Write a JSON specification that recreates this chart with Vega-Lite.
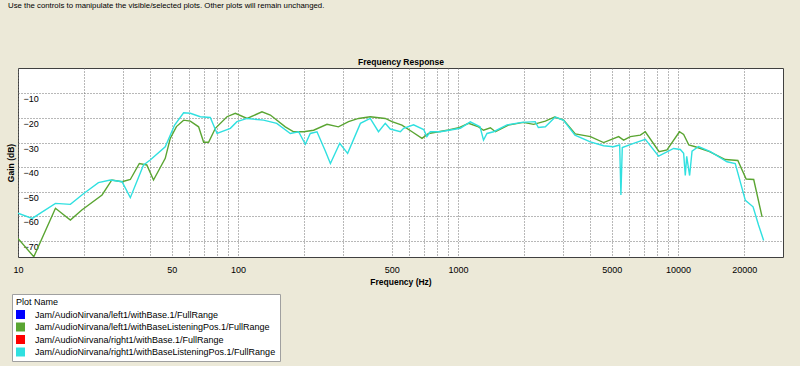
{
  "$schema": "https://vega.github.io/schema/vega-lite/v6.json",
  "background": "#ece9d8",
  "autosize": {"type": "none"},
  "width": 765,
  "height": 189,
  "padding": {"left": 18, "top": 68, "right": 17, "bottom": 109},
  "title": {"text": "Use the controls to manipulate the visible/selected plots.  Other plots will remain unchanged.", "anchor": "start", "frame": "bounds", "font": "Liberation Sans", "fontSize": 7.8, "fontWeight": "normal", "color": "#000000", "offset": 47, "dx": 2},
  "config": {
    "view": {"fill": "#ffffff", "stroke": "#404040", "strokeWidth": 1},
    "axis": {"labelFont": "Liberation Sans", "titleFont": "Liberation Sans", "labelColor": "#000000", "titleColor": "#000000"}
  },
  "data": {"values": [
    {"plot": "Jam/AudioNirvana/left1/withBaseListeningPos.1/FullRange", "f": 10, "g": -69},
    {"plot": "Jam/AudioNirvana/left1/withBaseListeningPos.1/FullRange", "f": 11.8, "g": -76.4},
    {"plot": "Jam/AudioNirvana/left1/withBaseListeningPos.1/FullRange", "f": 14.8, "g": -56.7},
    {"plot": "Jam/AudioNirvana/left1/withBaseListeningPos.1/FullRange", "f": 17.3, "g": -61.5},
    {"plot": "Jam/AudioNirvana/left1/withBaseListeningPos.1/FullRange", "f": 19.5, "g": -57.4},
    {"plot": "Jam/AudioNirvana/left1/withBaseListeningPos.1/FullRange", "f": 24.1, "g": -51.3},
    {"plot": "Jam/AudioNirvana/left1/withBaseListeningPos.1/FullRange", "f": 26.7, "g": -45.2},
    {"plot": "Jam/AudioNirvana/left1/withBaseListeningPos.1/FullRange", "f": 29.7, "g": -45.9},
    {"plot": "Jam/AudioNirvana/left1/withBaseListeningPos.1/FullRange", "f": 32.4, "g": -45},
    {"plot": "Jam/AudioNirvana/left1/withBaseListeningPos.1/FullRange", "f": 35.6, "g": -38.5},
    {"plot": "Jam/AudioNirvana/left1/withBaseListeningPos.1/FullRange", "f": 38.5, "g": -39.1},
    {"plot": "Jam/AudioNirvana/left1/withBaseListeningPos.1/FullRange", "f": 41.3, "g": -45.2},
    {"plot": "Jam/AudioNirvana/left1/withBaseListeningPos.1/FullRange", "f": 46.7, "g": -36.4},
    {"plot": "Jam/AudioNirvana/left1/withBaseListeningPos.1/FullRange", "f": 49.2, "g": -28.3},
    {"plot": "Jam/AudioNirvana/left1/withBaseListeningPos.1/FullRange", "f": 52.5, "g": -23.5},
    {"plot": "Jam/AudioNirvana/left1/withBaseListeningPos.1/FullRange", "f": 56.6, "g": -20.9},
    {"plot": "Jam/AudioNirvana/left1/withBaseListeningPos.1/FullRange", "f": 60.7, "g": -21.3},
    {"plot": "Jam/AudioNirvana/left1/withBaseListeningPos.1/FullRange", "f": 66.2, "g": -23.6},
    {"plot": "Jam/AudioNirvana/left1/withBaseListeningPos.1/FullRange", "f": 69.8, "g": -29.9},
    {"plot": "Jam/AudioNirvana/left1/withBaseListeningPos.1/FullRange", "f": 73.5, "g": -29.9},
    {"plot": "Jam/AudioNirvana/left1/withBaseListeningPos.1/FullRange", "f": 78.9, "g": -24.2},
    {"plot": "Jam/AudioNirvana/left1/withBaseListeningPos.1/FullRange", "f": 89.1, "g": -19.5},
    {"plot": "Jam/AudioNirvana/left1/withBaseListeningPos.1/FullRange", "f": 97.2, "g": -18.1},
    {"plot": "Jam/AudioNirvana/left1/withBaseListeningPos.1/FullRange", "f": 110, "g": -20.2},
    {"plot": "Jam/AudioNirvana/left1/withBaseListeningPos.1/FullRange", "f": 128.5, "g": -17.5},
    {"plot": "Jam/AudioNirvana/left1/withBaseListeningPos.1/FullRange", "f": 140.3, "g": -18.8},
    {"plot": "Jam/AudioNirvana/left1/withBaseListeningPos.1/FullRange", "f": 164, "g": -23.6},
    {"plot": "Jam/AudioNirvana/left1/withBaseListeningPos.1/FullRange", "f": 179, "g": -25.6},
    {"plot": "Jam/AudioNirvana/left1/withBaseListeningPos.1/FullRange", "f": 198.8, "g": -25.6},
    {"plot": "Jam/AudioNirvana/left1/withBaseListeningPos.1/FullRange", "f": 220.6, "g": -25},
    {"plot": "Jam/AudioNirvana/left1/withBaseListeningPos.1/FullRange", "f": 253.8, "g": -22.6},
    {"plot": "Jam/AudioNirvana/left1/withBaseListeningPos.1/FullRange", "f": 286, "g": -23.6},
    {"plot": "Jam/AudioNirvana/left1/withBaseListeningPos.1/FullRange", "f": 318, "g": -21.5},
    {"plot": "Jam/AudioNirvana/left1/withBaseListeningPos.1/FullRange", "f": 353, "g": -20.2},
    {"plot": "Jam/AudioNirvana/left1/withBaseListeningPos.1/FullRange", "f": 399, "g": -19.5},
    {"plot": "Jam/AudioNirvana/left1/withBaseListeningPos.1/FullRange", "f": 467, "g": -20.2},
    {"plot": "Jam/AudioNirvana/left1/withBaseListeningPos.1/FullRange", "f": 501, "g": -21.5},
    {"plot": "Jam/AudioNirvana/left1/withBaseListeningPos.1/FullRange", "f": 556, "g": -22.9},
    {"plot": "Jam/AudioNirvana/left1/withBaseListeningPos.1/FullRange", "f": 618, "g": -25.6},
    {"plot": "Jam/AudioNirvana/left1/withBaseListeningPos.1/FullRange", "f": 686, "g": -28.3},
    {"plot": "Jam/AudioNirvana/left1/withBaseListeningPos.1/FullRange", "f": 735, "g": -26.3},
    {"plot": "Jam/AudioNirvana/left1/withBaseListeningPos.1/FullRange", "f": 816, "g": -25.6},
    {"plot": "Jam/AudioNirvana/left1/withBaseListeningPos.1/FullRange", "f": 906, "g": -24.9},
    {"plot": "Jam/AudioNirvana/left1/withBaseListeningPos.1/FullRange", "f": 1006, "g": -24},
    {"plot": "Jam/AudioNirvana/left1/withBaseListeningPos.1/FullRange", "f": 1117, "g": -22.2},
    {"plot": "Jam/AudioNirvana/left1/withBaseListeningPos.1/FullRange", "f": 1240, "g": -23.6},
    {"plot": "Jam/AudioNirvana/left1/withBaseListeningPos.1/FullRange", "f": 1306, "g": -25},
    {"plot": "Jam/AudioNirvana/left1/withBaseListeningPos.1/FullRange", "f": 1403, "g": -24},
    {"plot": "Jam/AudioNirvana/left1/withBaseListeningPos.1/FullRange", "f": 1479, "g": -25.6},
    {"plot": "Jam/AudioNirvana/left1/withBaseListeningPos.1/FullRange", "f": 1693, "g": -22.9},
    {"plot": "Jam/AudioNirvana/left1/withBaseListeningPos.1/FullRange", "f": 1981, "g": -21.8},
    {"plot": "Jam/AudioNirvana/left1/withBaseListeningPos.1/FullRange", "f": 2206, "g": -22.6},
    {"plot": "Jam/AudioNirvana/left1/withBaseListeningPos.1/FullRange", "f": 2494, "g": -21.3},
    {"plot": "Jam/AudioNirvana/left1/withBaseListeningPos.1/FullRange", "f": 2750, "g": -19.6},
    {"plot": "Jam/AudioNirvana/left1/withBaseListeningPos.1/FullRange", "f": 3020, "g": -20.9},
    {"plot": "Jam/AudioNirvana/left1/withBaseListeningPos.1/FullRange", "f": 3412, "g": -26.5},
    {"plot": "Jam/AudioNirvana/left1/withBaseListeningPos.1/FullRange", "f": 4000, "g": -27.6},
    {"plot": "Jam/AudioNirvana/left1/withBaseListeningPos.1/FullRange", "f": 4588, "g": -30},
    {"plot": "Jam/AudioNirvana/left1/withBaseListeningPos.1/FullRange", "f": 5370, "g": -27.6},
    {"plot": "Jam/AudioNirvana/left1/withBaseListeningPos.1/FullRange", "f": 5660, "g": -29},
    {"plot": "Jam/AudioNirvana/left1/withBaseListeningPos.1/FullRange", "f": 6070, "g": -27.6},
    {"plot": "Jam/AudioNirvana/left1/withBaseListeningPos.1/FullRange", "f": 6740, "g": -27},
    {"plot": "Jam/AudioNirvana/left1/withBaseListeningPos.1/FullRange", "f": 7100, "g": -25.6},
    {"plot": "Jam/AudioNirvana/left1/withBaseListeningPos.1/FullRange", "f": 8200, "g": -33.7},
    {"plot": "Jam/AudioNirvana/left1/withBaseListeningPos.1/FullRange", "f": 8910, "g": -33},
    {"plot": "Jam/AudioNirvana/left1/withBaseListeningPos.1/FullRange", "f": 10150, "g": -25.6},
    {"plot": "Jam/AudioNirvana/left1/withBaseListeningPos.1/FullRange", "f": 10605, "g": -26.7},
    {"plot": "Jam/AudioNirvana/left1/withBaseListeningPos.1/FullRange", "f": 11200, "g": -31},
    {"plot": "Jam/AudioNirvana/left1/withBaseListeningPos.1/FullRange", "f": 11980, "g": -31.7},
    {"plot": "Jam/AudioNirvana/left1/withBaseListeningPos.1/FullRange", "f": 13900, "g": -33.7},
    {"plot": "Jam/AudioNirvana/left1/withBaseListeningPos.1/FullRange", "f": 16400, "g": -36.9},
    {"plot": "Jam/AudioNirvana/left1/withBaseListeningPos.1/FullRange", "f": 18700, "g": -37.3},
    {"plot": "Jam/AudioNirvana/left1/withBaseListeningPos.1/FullRange", "f": 20400, "g": -44.8},
    {"plot": "Jam/AudioNirvana/left1/withBaseListeningPos.1/FullRange", "f": 22080, "g": -45},
    {"plot": "Jam/AudioNirvana/left1/withBaseListeningPos.1/FullRange", "f": 24100, "g": -60.2},
    {"plot": "Jam/AudioNirvana/right1/withBaseListeningPos.1/FullRange", "f": 10, "g": -58.7},
    {"plot": "Jam/AudioNirvana/right1/withBaseListeningPos.1/FullRange", "f": 11.6, "g": -60.8},
    {"plot": "Jam/AudioNirvana/right1/withBaseListeningPos.1/FullRange", "f": 14.8, "g": -54.7},
    {"plot": "Jam/AudioNirvana/right1/withBaseListeningPos.1/FullRange", "f": 17.3, "g": -55.1},
    {"plot": "Jam/AudioNirvana/right1/withBaseListeningPos.1/FullRange", "f": 19.9, "g": -50.7},
    {"plot": "Jam/AudioNirvana/right1/withBaseListeningPos.1/FullRange", "f": 23.2, "g": -46.3},
    {"plot": "Jam/AudioNirvana/right1/withBaseListeningPos.1/FullRange", "f": 26.3, "g": -45.2},
    {"plot": "Jam/AudioNirvana/right1/withBaseListeningPos.1/FullRange", "f": 29.7, "g": -45.9},
    {"plot": "Jam/AudioNirvana/right1/withBaseListeningPos.1/FullRange", "f": 32.4, "g": -52.4},
    {"plot": "Jam/AudioNirvana/right1/withBaseListeningPos.1/FullRange", "f": 37.2, "g": -39.1},
    {"plot": "Jam/AudioNirvana/right1/withBaseListeningPos.1/FullRange", "f": 39.9, "g": -37.1},
    {"plot": "Jam/AudioNirvana/right1/withBaseListeningPos.1/FullRange", "f": 46.7, "g": -31.7},
    {"plot": "Jam/AudioNirvana/right1/withBaseListeningPos.1/FullRange", "f": 51.5, "g": -22.9},
    {"plot": "Jam/AudioNirvana/right1/withBaseListeningPos.1/FullRange", "f": 56.6, "g": -17.9},
    {"plot": "Jam/AudioNirvana/right1/withBaseListeningPos.1/FullRange", "f": 60.7, "g": -18.1},
    {"plot": "Jam/AudioNirvana/right1/withBaseListeningPos.1/FullRange", "f": 67.4, "g": -19.5},
    {"plot": "Jam/AudioNirvana/right1/withBaseListeningPos.1/FullRange", "f": 74.8, "g": -19.8},
    {"plot": "Jam/AudioNirvana/right1/withBaseListeningPos.1/FullRange", "f": 80.3, "g": -26.3},
    {"plot": "Jam/AudioNirvana/right1/withBaseListeningPos.1/FullRange", "f": 92.3, "g": -24.2},
    {"plot": "Jam/AudioNirvana/right1/withBaseListeningPos.1/FullRange", "f": 98.9, "g": -21.5},
    {"plot": "Jam/AudioNirvana/right1/withBaseListeningPos.1/FullRange", "f": 110, "g": -20.2},
    {"plot": "Jam/AudioNirvana/right1/withBaseListeningPos.1/FullRange", "f": 130.6, "g": -20.9},
    {"plot": "Jam/AudioNirvana/right1/withBaseListeningPos.1/FullRange", "f": 150, "g": -22.2},
    {"plot": "Jam/AudioNirvana/right1/withBaseListeningPos.1/FullRange", "f": 172.9, "g": -26.3},
    {"plot": "Jam/AudioNirvana/right1/withBaseListeningPos.1/FullRange", "f": 188.6, "g": -25.6},
    {"plot": "Jam/AudioNirvana/right1/withBaseListeningPos.1/FullRange", "f": 202.3, "g": -30.7},
    {"plot": "Jam/AudioNirvana/right1/withBaseListeningPos.1/FullRange", "f": 213, "g": -26.3},
    {"plot": "Jam/AudioNirvana/right1/withBaseListeningPos.1/FullRange", "f": 228.5, "g": -25.6},
    {"plot": "Jam/AudioNirvana/right1/withBaseListeningPos.1/FullRange", "f": 249.4, "g": -33.4},
    {"plot": "Jam/AudioNirvana/right1/withBaseListeningPos.1/FullRange", "f": 263, "g": -38.5},
    {"plot": "Jam/AudioNirvana/right1/withBaseListeningPos.1/FullRange", "f": 290, "g": -30.3},
    {"plot": "Jam/AudioNirvana/right1/withBaseListeningPos.1/FullRange", "f": 315, "g": -34.4},
    {"plot": "Jam/AudioNirvana/right1/withBaseListeningPos.1/FullRange", "f": 360, "g": -22.2},
    {"plot": "Jam/AudioNirvana/right1/withBaseListeningPos.1/FullRange", "f": 399, "g": -20.2},
    {"plot": "Jam/AudioNirvana/right1/withBaseListeningPos.1/FullRange", "f": 435, "g": -25.6},
    {"plot": "Jam/AudioNirvana/right1/withBaseListeningPos.1/FullRange", "f": 467, "g": -22.2},
    {"plot": "Jam/AudioNirvana/right1/withBaseListeningPos.1/FullRange", "f": 492, "g": -24.5},
    {"plot": "Jam/AudioNirvana/right1/withBaseListeningPos.1/FullRange", "f": 547, "g": -25.6},
    {"plot": "Jam/AudioNirvana/right1/withBaseListeningPos.1/FullRange", "f": 566, "g": -24.2},
    {"plot": "Jam/AudioNirvana/right1/withBaseListeningPos.1/FullRange", "f": 628, "g": -22.8},
    {"plot": "Jam/AudioNirvana/right1/withBaseListeningPos.1/FullRange", "f": 698, "g": -24.7},
    {"plot": "Jam/AudioNirvana/right1/withBaseListeningPos.1/FullRange", "f": 722, "g": -27.6},
    {"plot": "Jam/AudioNirvana/right1/withBaseListeningPos.1/FullRange", "f": 748, "g": -25.6},
    {"plot": "Jam/AudioNirvana/right1/withBaseListeningPos.1/FullRange", "f": 831, "g": -25.6},
    {"plot": "Jam/AudioNirvana/right1/withBaseListeningPos.1/FullRange", "f": 1024, "g": -24.2},
    {"plot": "Jam/AudioNirvana/right1/withBaseListeningPos.1/FullRange", "f": 1137, "g": -21.6},
    {"plot": "Jam/AudioNirvana/right1/withBaseListeningPos.1/FullRange", "f": 1259, "g": -23.6},
    {"plot": "Jam/AudioNirvana/right1/withBaseListeningPos.1/FullRange", "f": 1306, "g": -29},
    {"plot": "Jam/AudioNirvana/right1/withBaseListeningPos.1/FullRange", "f": 1354, "g": -26.3},
    {"plot": "Jam/AudioNirvana/right1/withBaseListeningPos.1/FullRange", "f": 1452, "g": -25.6},
    {"plot": "Jam/AudioNirvana/right1/withBaseListeningPos.1/FullRange", "f": 1670, "g": -22.8},
    {"plot": "Jam/AudioNirvana/right1/withBaseListeningPos.1/FullRange", "f": 1950, "g": -21.8},
    {"plot": "Jam/AudioNirvana/right1/withBaseListeningPos.1/FullRange", "f": 2243, "g": -21.5},
    {"plot": "Jam/AudioNirvana/right1/withBaseListeningPos.1/FullRange", "f": 2318, "g": -23.9},
    {"plot": "Jam/AudioNirvana/right1/withBaseListeningPos.1/FullRange", "f": 2494, "g": -23.6},
    {"plot": "Jam/AudioNirvana/right1/withBaseListeningPos.1/FullRange", "f": 2768, "g": -19.6},
    {"plot": "Jam/AudioNirvana/right1/withBaseListeningPos.1/FullRange", "f": 3020, "g": -21},
    {"plot": "Jam/AudioNirvana/right1/withBaseListeningPos.1/FullRange", "f": 3400, "g": -27},
    {"plot": "Jam/AudioNirvana/right1/withBaseListeningPos.1/FullRange", "f": 3992, "g": -29.7},
    {"plot": "Jam/AudioNirvana/right1/withBaseListeningPos.1/FullRange", "f": 4588, "g": -31.3},
    {"plot": "Jam/AudioNirvana/right1/withBaseListeningPos.1/FullRange", "f": 5080, "g": -31.7},
    {"plot": "Jam/AudioNirvana/right1/withBaseListeningPos.1/FullRange", "f": 5430, "g": -31},
    {"plot": "Jam/AudioNirvana/right1/withBaseListeningPos.1/FullRange", "f": 5500, "g": -51.3},
    {"plot": "Jam/AudioNirvana/right1/withBaseListeningPos.1/FullRange", "f": 5580, "g": -32},
    {"plot": "Jam/AudioNirvana/right1/withBaseListeningPos.1/FullRange", "f": 6280, "g": -30.3},
    {"plot": "Jam/AudioNirvana/right1/withBaseListeningPos.1/FullRange", "f": 7100, "g": -28.7},
    {"plot": "Jam/AudioNirvana/right1/withBaseListeningPos.1/FullRange", "f": 8160, "g": -35.5},
    {"plot": "Jam/AudioNirvana/right1/withBaseListeningPos.1/FullRange", "f": 9550, "g": -32.4},
    {"plot": "Jam/AudioNirvana/right1/withBaseListeningPos.1/FullRange", "f": 10240, "g": -32.8},
    {"plot": "Jam/AudioNirvana/right1/withBaseListeningPos.1/FullRange", "f": 10605, "g": -34.4},
    {"plot": "Jam/AudioNirvana/right1/withBaseListeningPos.1/FullRange", "f": 10790, "g": -43.4},
    {"plot": "Jam/AudioNirvana/right1/withBaseListeningPos.1/FullRange", "f": 10950, "g": -35.6},
    {"plot": "Jam/AudioNirvana/right1/withBaseListeningPos.1/FullRange", "f": 11290, "g": -43.4},
    {"plot": "Jam/AudioNirvana/right1/withBaseListeningPos.1/FullRange", "f": 11580, "g": -33.5},
    {"plot": "Jam/AudioNirvana/right1/withBaseListeningPos.1/FullRange", "f": 12400, "g": -31.6},
    {"plot": "Jam/AudioNirvana/right1/withBaseListeningPos.1/FullRange", "f": 14030, "g": -33.7},
    {"plot": "Jam/AudioNirvana/right1/withBaseListeningPos.1/FullRange", "f": 16700, "g": -37.8},
    {"plot": "Jam/AudioNirvana/right1/withBaseListeningPos.1/FullRange", "f": 18200, "g": -38.5},
    {"plot": "Jam/AudioNirvana/right1/withBaseListeningPos.1/FullRange", "f": 20230, "g": -53.5},
    {"plot": "Jam/AudioNirvana/right1/withBaseListeningPos.1/FullRange", "f": 21930, "g": -56.1},
    {"plot": "Jam/AudioNirvana/right1/withBaseListeningPos.1/FullRange", "f": 23220, "g": -63.5},
    {"plot": "Jam/AudioNirvana/right1/withBaseListeningPos.1/FullRange", "f": 24500, "g": -69.8}
  ]},
  "layer": [
    {
      "mark": {"type": "line", "clip": true, "strokeWidth": 1.4},
      "encoding": {
        "x": {"field": "f", "type": "quantitative", "scale": {"type": "log", "domain": [10, 30000], "nice": false},
          "axis": {"orient": "bottom", "values": [10,20,30,40,50,60,70,80,90,100,200,300,500,600,700,800,900,1000,2000,3000,4000,5000,6000,7000,8000,9000,10000,20000],
            "labelExpr": "indexof([10,50,100,500,1000,5000,10000,20000], datum.value) >= 0 ? format(datum.value, 'd') : ''",
            "labelOverlap": false, "labelFlush": false, "labelFontSize": 9, "labelPadding": 8,
            "grid": true, "gridDash": [1, 2], "gridColor": "#707070", "gridOpacity": 1, "ticks": false, "domain": false,
            "title": "Frequency (Hz)", "titleFontSize": 8.5, "titleFontWeight": "bold", "titlePadding": 3}},
        "y": {"field": "g", "type": "quantitative", "scale": {"domain": [-76.5, 0.3], "nice": false, "zero": false},
          "axis": {"values": [-70,-60,-50,-40,-30,-20,-10], "labelAlign": "left", "labelBaseline": "top", "labelPadding": -5, "labelOffset": 1.5, "labelFontSize": 9,
            "grid": true, "gridDash": [1, 2], "gridColor": "#707070", "gridOpacity": 1, "ticks": false, "domain": false,
            "title": "Gain (dB)", "titleFontSize": 8.5, "titleFontWeight": "bold", "titleX": -3}},
        "color": {"field": "plot", "type": "nominal",
          "scale": {"domain": ["Jam/AudioNirvana/left1/withBase.1/FullRange", "Jam/AudioNirvana/left1/withBaseListeningPos.1/FullRange", "Jam/AudioNirvana/right1/withBase.1/FullRange", "Jam/AudioNirvana/right1/withBaseListeningPos.1/FullRange"],
            "range": ["#0000ff", "#5aa532", "#ff0000", "#30e0e0"]},
          "legend": {"orient": "none", "legendX": -6, "legendY": 226, "title": "Plot Name", "titleFont": "Liberation Sans", "titleFontSize": 9, "titleFontWeight": "normal", "titleColor": "#000000", "titlePadding": 3,
            "labelFont": "Liberation Sans", "labelFontSize": 9, "labelColor": "#000000", "labelLimit": 400, "labelOffset": 10,
            "symbolType": "square", "symbolSize": 81, "symbolStrokeWidth": 0, "symbolOpacity": 1, "rowPadding": 2.5,
            "fillColor": "#ffffff", "strokeColor": "#a0a0a0", "padding": 4,
            "encode": {"symbols": {"update": {"fill": {"scale": "color", "field": "value"}, "fillOpacity": {"value": 1}, "strokeWidth": {"value": 0}}}}}}
      }
    },
    {
      "mark": {"type": "point", "opacity": 0},
      "encoding": {
        "x": {"field": "f", "type": "quantitative", "axis": {"orient": "top", "labels": false, "ticks": false, "domain": false, "grid": false, "title": "Frequency Response", "titleFontSize": 8.5, "titleFontWeight": "bold", "titlePadding": 2}}
      }
    }
  ],
  "resolve": {"axis": {"x": "independent"}}
}
